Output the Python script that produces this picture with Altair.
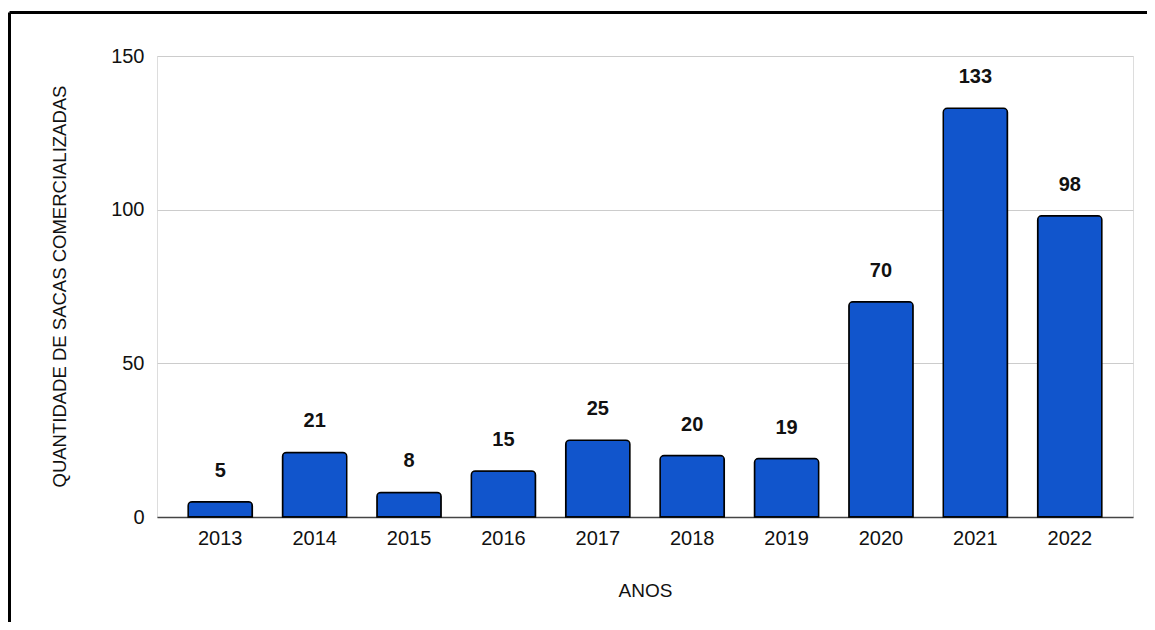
import altair as alt
import pandas as pd

years = ["2013", "2014", "2015", "2016", "2017", "2018", "2019", "2020", "2021", "2022"]
sacks = [5, 21, 8, 15, 25, 20, 19, 70, 133, 98]
y_ticks = [0, 50, 100, 150]

df = pd.DataFrame({"ano": years, "sacas": sacks})

FONT = "Liberation Sans"

base = alt.Chart(df).encode(
    x=alt.X(
        "ano:N",
        sort=years,
        title="ANOS",
        scale=alt.Scale(paddingInner=0.32, paddingOuter=0.33),
        axis=alt.Axis(
            labelAngle=0,
            labelFontSize=20,
            labelColor="#111111",
            labelPadding=11,
            ticks=False,
            domainColor="#444444",
            domainWidth=1.5,
            titleFontSize=19,
            titleFontWeight="normal",
            titleColor="#111111",
            titlePadding=33,
        ),
    ),
    y=alt.Y(
        "sacas:Q",
        title="QUANTIDADE DE SACAS COMERCIALIZADAS",
        scale=alt.Scale(domain=[0, 150], nice=False),
        axis=alt.Axis(
            values=y_ticks,
            labelFontSize=20,
            labelColor="#111111",
            labelPadding=13,
            ticks=False,
            domain=False,
            gridColor="#cccccc",
            gridWidth=1,
            titleFontSize=18.5,
            titleFontWeight="normal",
            titleColor="#111111",
            titleX=-88,
            titleY=230,
        ),
    ),
)

bars = base.mark_bar(
    color="#1155cc",
    stroke="#000000",
    strokeWidth=1.5,
    cornerRadiusTopLeft=4,
    cornerRadiusTopRight=4,
)

labels = base.mark_text(
    baseline="alphabetic",
    dy=-25,
    fontSize=20,
    fontWeight="bold",
    font=FONT,
    color="#111111",
).encode(text="sacas:Q")

frame_src = alt.Data(values=[{"k": 0}])
top_line = alt.Chart(frame_src).mark_rule(color="#000000", strokeWidth=3).encode(
    x=alt.value(-147.5), x2=alt.value(1000), y=alt.value(-43.5)
)
left_line = alt.Chart(frame_src).mark_rule(color="#000000", strokeWidth=3).encode(
    x=alt.value(-147.5), y=alt.value(-43.5), y2=alt.value(600)
)

chart = (
    alt.layer(bars, labels, top_line, left_line)
    .properties(
        width=976,
        height=461,
        autosize=alt.AutoSizeParams(type="none"),
        padding={"left": 149, "top": 48, "right": 14, "bottom": 105},
    )
    .configure_view(stroke=None)
    .configure(font=FONT, background="#ffffff")
)

chart.save("out.html", embed_options={"renderer": "svg", "actions": False})
